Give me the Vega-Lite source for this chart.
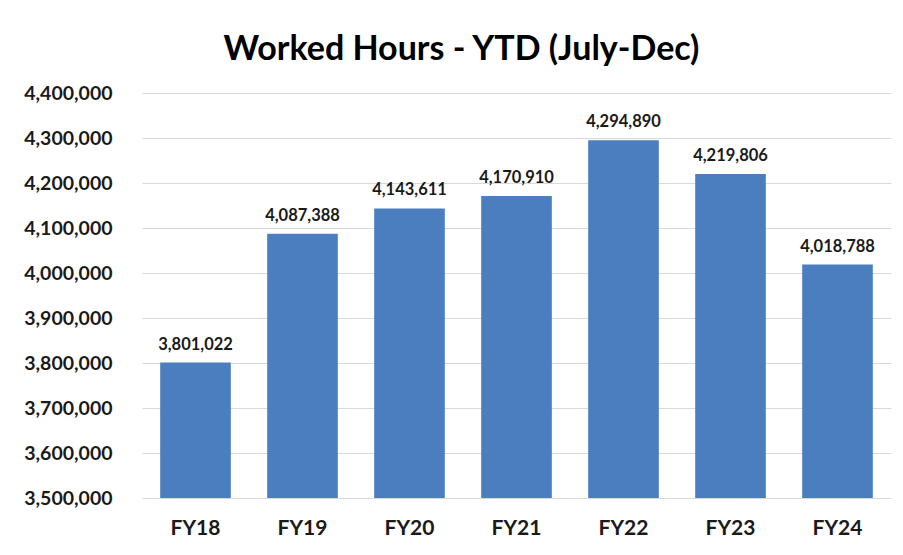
{
  "$schema": "https://vega.github.io/schema/vega-lite/v6.json",
  "width": 749,
  "height": 405,
  "autosize": {"type": "none"},
  "padding": {"left": 142, "top": 93, "right": 12, "bottom": 57},
  "background": "white",
  "title": {
    "text": "Worked Hours - YTD (July-Dec)",
    "font": "Lato",
    "fontSize": 34,
    "fontWeight": "bold",
    "color": "#000000",
    "anchor": "middle",
    "dx": -55,
    "offset": 16
  },
  "data": {
    "values": [
      {"year": "FY18", "hours": 3801022},
      {"year": "FY19", "hours": 4087388},
      {"year": "FY20", "hours": 4143611},
      {"year": "FY21", "hours": 4170910},
      {"year": "FY22", "hours": 4294890},
      {"year": "FY23", "hours": 4219806},
      {"year": "FY24", "hours": 4018788}
    ]
  },
  "encoding": {
    "x": {
      "field": "year",
      "type": "nominal",
      "sort": null,
      "title": null,
      "scale": {"paddingInner": 0.34, "paddingOuter": 0.17},
      "axis": {
        "domain": false,
        "ticks": false,
        "labelAngle": 0,
        "labelFont": "Lato",
        "labelFontSize": 21,
        "labelFontWeight": "bold",
        "labelColor": "#1a1a1a",
        "labelPadding": 19
      }
    },
    "y": {
      "field": "hours",
      "type": "quantitative",
      "title": null,
      "scale": {"domain": [3500000, 4400000], "zero": false, "nice": false},
      "axis": {
        "values": [3500000, 3600000, 3700000, 3800000, 3900000, 4000000, 4100000, 4200000, 4300000, 4400000],
        "format": ",d",
        "domain": false,
        "ticks": false,
        "labelFont": "Lato",
        "labelFontSize": 19.5,
        "labelFontWeight": "bold",
        "labelColor": "#1a1a1a",
        "labelPadding": 30,
        "gridColor": "#d9d9d9",
        "gridWidth": 1
      }
    }
  },
  "layer": [
    {
      "mark": {"type": "bar", "color": "#4a7ebf", "clip": true}
    },
    {
      "mark": {
        "type": "text",
        "baseline": "bottom",
        "dy": -10,
        "font": "Lato",
        "fontSize": 16.5,
        "fontWeight": "bold",
        "color": "#1a1a1a"
      },
      "encoding": {
        "text": {"field": "hours", "type": "quantitative", "format": ",d"}
      }
    }
  ],
  "config": {
    "view": {"stroke": null}
  }
}
